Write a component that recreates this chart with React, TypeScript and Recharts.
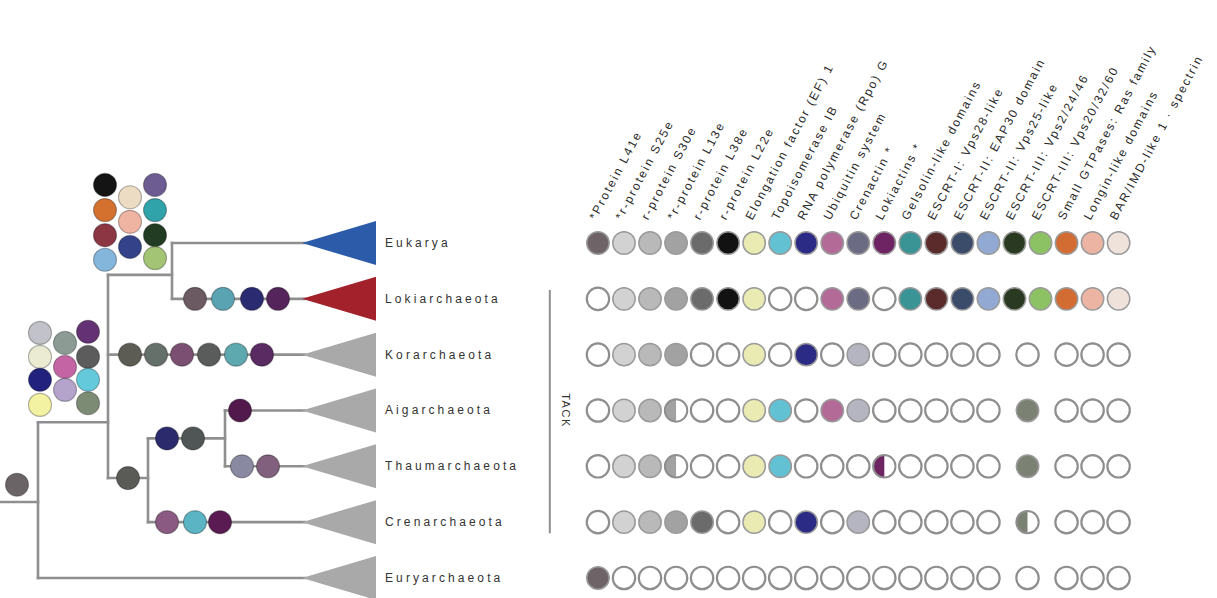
import { ScatterChart, Scatter, XAxis, YAxis } from 'recharts'

const W = 1217
const H = 598
const FONT = 'Liberation Sans, Arial, sans-serif'

// clades, one row each (top to bottom)
const CLADES = ['Eukarya', 'Lokiarchaeota', 'Korarchaeota', 'Aigarchaeota', 'Thaumarchaeota', 'Crenarchaeota', 'Euryarchaeota']
const CLADE_COLORS = ['#2b5ba9', '#a3212b', '#a9a9a9', '#a9a9a9', '#a9a9a9', '#a9a9a9', '#a9a9a9']
const CLADE_TIP = 30.2

// eukaryotic signature proteins (columns)
const ESP_LABELS = [
  '*Protein L41e',
  '*r-protein S25e',
  'r-protein S30e',
  '*r-protein L13e',
  'r-protein L38e',
  'r-protein L22e',
  'Elongation factor (EF) 1',
  'Topoisomerase IB',
  'RNA polymerase (Rpo) G',
  'Ubiquitin system',
  'Crenactin *',
  'Lokiactins *',
  'Gelsolin-like domains',
  'ESCRT-I: Vps28-like',
  'ESCRT-II: EAP30 domain',
  'ESCRT-II: Vps25-like',
  'ESCRT-III: Vps2/24/46',
  'ESCRT-III: Vps20/32/60',
  'Small GTPases: Ras family',
  'Longin-like domains',
  'BAR/IMD-like 1 · spectrin',
]
const ESP_COLORS = [
  '#6e6468', '#d2d2d2', '#b9b9b9', '#a2a2a2', '#6b6b6b', '#121212', '#e9ebb2',
  '#62c2d3', '#2b2a84', '#b36a96', '#6b6b84', '#6e2462', '#3a9496', '#5b2a2a',
  '#3b4b6a', '#92a9d3', '#2a3a22', '#8cc264', '#d26c32', '#ecb4a2', '#efe2da',
]

// 1 present, 0 absent, 2 partial, 3 weak, -1 merged (see MERGED)
const EUKARYA_ESP = [1, 1, 1, 1, 1, 1, 1, 1, 1, 1, 1, 1, 1, 1, 1, 1, 1, 1, 1, 1, 1]
const LOKI_ESP = [0, 1, 1, 1, 1, 1, 1, 0, 0, 1, 1, 0, 1, 1, 1, 1, 1, 1, 1, 1, 1]
const KOR_ESP = [0, 1, 1, 1, 0, 0, 1, 0, 1, 0, 3, 0, 0, 0, 0, 0, -1, -1, 0, 0, 0]
const AIG_ESP = [0, 1, 1, 2, 0, 0, 1, 1, 0, 1, 3, 0, 0, 0, 0, 0, -1, -1, 0, 0, 0]
const THAUM_ESP = [0, 1, 1, 2, 0, 0, 1, 1, 0, 0, 0, 2, 0, 0, 0, 0, -1, -1, 0, 0, 0]
const CREN_ESP = [0, 1, 1, 1, 1, 0, 1, 0, 1, 0, 3, 0, 0, 0, 0, 0, -1, -1, 0, 0, 0]
const EURY_ESP = [1, 0, 0, 0, 0, 0, 0, 0, 0, 0, 0, 0, 0, 0, 0, 0, -1, -1, 0, 0, 0]
const ESP_ROWS = [EUKARYA_ESP, LOKI_ESP, KOR_ESP, AIG_ESP, THAUM_ESP, CREN_ESP, EURY_ESP]
const MERGED = [null, null, 0, 1, 1, 2, 0]
const MERGED_COL = 16.5
const MERGED_COLOR = '#7b8274'
const LABEL_ROW = -0.4

// tree branches, [x, row] pairs
const BRANCHES = [
  [[0, 4.64], [3.8, 4.64]],
  [[3.8, 3.21], [3.8, 6]],
  [[3.8, 6], [30.5, 6]],
  [[3.8, 3.21], [10.8, 3.21]],
  [[10.8, 0.57], [10.8, 4.21]],
  [[10.8, 0.57], [17.2, 0.57]],
  [[17.2, 0], [17.2, 1]],
  [[17.2, 0], [30.5, 0]],
  [[17.2, 1], [30.5, 1]],
  [[10.8, 2], [30.5, 2]],
  [[10.8, 4.21], [14.8, 4.21]],
  [[14.8, 3.5], [14.8, 5]],
  [[14.8, 3.5], [22.5, 3.5]],
  [[22.5, 3], [22.5, 4]],
  [[22.5, 3], [30.5, 3]],
  [[22.5, 4], [30.5, 4]],
  [[14.8, 5], [30.5, 5]],
]

// gains on branches: x, row, colour
const GAIN_X = [1.7, 19.5, 22.3, 25.2, 27.8, 13.0, 15.6, 18.2, 20.9, 23.6, 26.2, 12.8, 16.7, 19.3, 24.0, 24.2, 26.8, 16.7, 19.5, 22.0]
const GAIN_ROW = [4.33, 1, 1, 1, 1, 2, 2, 2, 2, 2, 2, 4.21, 3.5, 3.5, 3, 4, 4, 5, 5, 5]
const GAIN_COLORS = [
  '#6b6466', '#6b5a62', '#5aa3b3', '#2b2b72', '#54245a', '#5c5c54', '#66706a',
  '#7a4f72', '#5a5c5c', '#5ea8b0', '#5a2a62', '#5a5a56', '#2a2a6c', '#505656',
  '#521a4c', '#8a89a2', '#80607c', '#8a5a82', '#5ab4c4', '#5a1a52',
]

// ancestral sets at the two deep nodes
const EUK_SET_X = [10.5, 10.5, 10.5, 10.5, 13.0, 13.0, 13.0, 15.5, 15.5, 15.5, 15.5]
const EUK_SET_ROW = [-1.04, -0.59, -0.14, 0.3, -0.82, -0.38, 0.07, -1.04, -0.59, -0.14, 0.27]
const EUK_SET_COLORS = ['#141414', '#d4712f', '#8c3644', '#84b6dc', '#eddcc4', '#f0b4a2', '#34428a', '#6c5c92', '#2fa2aa', '#223c24', '#a2c474']
const ARCH_SET_X = [4.0, 4.0, 4.0, 4.0, 6.5, 6.5, 6.5, 8.8, 8.8, 8.8, 8.8]
const ARCH_SET_ROW = [1.61, 2.04, 2.45, 2.9, 1.79, 2.22, 2.63, 1.59, 2.04, 2.45, 2.87]
const ARCH_SET_COLORS = ['#c2c2ca', '#ebebd4', '#22227e', '#f2f2a2', '#8c9c94', '#c464a4', '#b4a4cc', '#643274', '#5c5c5c', '#64cadb', '#7c8c74']

const TACK_X = -1.85
const TACK_ROWS = [0.84, 5.2]

function lighten(hex: string, t: number) {
  const n = parseInt(hex.slice(1), 16)
  const ch = [(n >> 16) & 255, (n >> 8) & 255, n & 255].map((c) => Math.round(c + (255 - c) * t))
  return `rgb(${ch.join(',')})`
}

const cells: any[] = []
ESP_ROWS.forEach((row, r) => {
  row.forEach((code, c) => {
    if (code >= 0) cells.push({ x: c, y: r, code, color: ESP_COLORS[c] })
  })
  if (MERGED[r] !== null) cells.push({ x: MERGED_COL, y: r, code: MERGED[r], color: MERGED_COLOR })
})

const gains = GAIN_X.map((x, i) => ({ x, y: GAIN_ROW[i], color: GAIN_COLORS[i] }))
const sets = [
  ...EUK_SET_X.map((x, i) => ({ x, y: EUK_SET_ROW[i], color: EUK_SET_COLORS[i] })),
  ...ARCH_SET_X.map((x, i) => ({ x, y: ARCH_SET_ROW[i], color: ARCH_SET_COLORS[i] })),
]
const clades = CLADES.map((name, i) => ({ x: CLADE_TIP, y: i, name, color: CLADE_COLORS[i] }))
const espLabels = ESP_LABELS.map((text, i) => ({ x: i, y: LABEL_ROW, text }))

const noShape = () => <g />

const Dot = (p: any) => (
  <circle cx={p.cx} cy={p.cy} r={11.5} fill={p.payload.color} stroke="rgba(0,0,0,0.3)" strokeWidth={1.2} />
)

const Clade = (p: any) => {
  const { cx, cy, payload } = p
  return (
    <g>
      <polygon points={`${cx},${cy} ${cx + 74},${cy - 22} ${cx + 74},${cy + 22}`} fill={payload.color} />
      <text x={cx + 83} y={cy + 4} fontSize={12} letterSpacing={3.1} fill="#333" fontFamily={FONT}>
        {payload.name}
      </text>
    </g>
  )
}

const Cell = (p: any) => {
  const { cx, cy, payload } = p
  const r = 11.2
  if (payload.code === 0) {
    return <circle cx={cx} cy={cy} r={r} fill="#fff" stroke="#8e8e8e" strokeWidth={2.2} />
  }
  if (payload.code === 2) {
    return (
      <g>
        <circle cx={cx} cy={cy} r={r} fill="#fff" />
        <path d={`M${cx},${cy - r} A${r},${r} 0 0 0 ${cx},${cy + r} Z`} fill={payload.color} />
        <circle cx={cx} cy={cy} r={r} fill="none" stroke="#8e8e8e" strokeWidth={2} />
      </g>
    )
  }
  const fill = payload.code === 3 ? lighten(payload.color, 0.5) : payload.color
  return <circle cx={cx} cy={cy} r={r} fill={fill} stroke="#9a9a9a" strokeWidth={1.5} />
}

const EspLabel = (p: any) => {
  const x = p.cx - 2
  return (
    <text x={x} y={p.cy} transform={`rotate(-62 ${x} ${p.cy})`} fontSize={12} letterSpacing={2} fill="#2a2a2a" fontFamily={FONT}>
      {p.payload.text}
    </text>
  )
}

const TackLabel = (p: any) => (
  <text x={p.cx} y={p.cy} transform={`rotate(90 ${p.cx} ${p.cy})`} textAnchor="middle" fontSize={11} letterSpacing={1.5} fill="#333" fontFamily={FONT}>
    TACK
  </text>
)

export default function App() {
  return (
    <div style={{ position: 'absolute', left: 0, top: 0, width: W, height: H, background: '#fff' }}>
      <ScatterChart width={W} height={H} margin={{ top: 0, right: 0, bottom: 0, left: 0 }}>
        <XAxis xAxisId="tree" type="number" dataKey="x" domain={[0, 121.7]} allowDataOverflow hide />
        <XAxis xAxisId="grid" type="number" dataKey="x" domain={[-22.97, 23.78]} allowDataOverflow hide />
        <YAxis type="number" dataKey="y" domain={[-4.353, 6.359]} reversed allowDataOverflow hide />

        {BRANCHES.map((seg, i) => (
          <Scatter
            key={`b${i}`}
            xAxisId="tree"
            data={seg.map(([x, y]) => ({ x, y }))}
            line={{ stroke: '#8f8f8f', strokeWidth: 2.6, strokeLinecap: 'square' }}
            shape={noShape}
            isAnimationActive={false}
          />
        ))}
        <Scatter xAxisId="tree" data={clades} shape={Clade} isAnimationActive={false} />
        <Scatter xAxisId="tree" data={gains} shape={Dot} isAnimationActive={false} />
        <Scatter xAxisId="tree" data={sets} shape={Dot} isAnimationActive={false} />

        <Scatter
          xAxisId="grid"
          data={TACK_ROWS.map((y) => ({ x: TACK_X, y }))}
          line={{ stroke: '#8f8f8f', strokeWidth: 2 }}
          shape={noShape}
          isAnimationActive={false}
        />
        <Scatter xAxisId="grid" data={[{ x: TACK_X + 0.47, y: 3 }]} shape={TackLabel} isAnimationActive={false} />
        <Scatter xAxisId="grid" data={espLabels} shape={EspLabel} isAnimationActive={false} />
        <Scatter xAxisId="grid" data={cells} shape={Cell} isAnimationActive={false} />
      </ScatterChart>
    </div>
  )
}
